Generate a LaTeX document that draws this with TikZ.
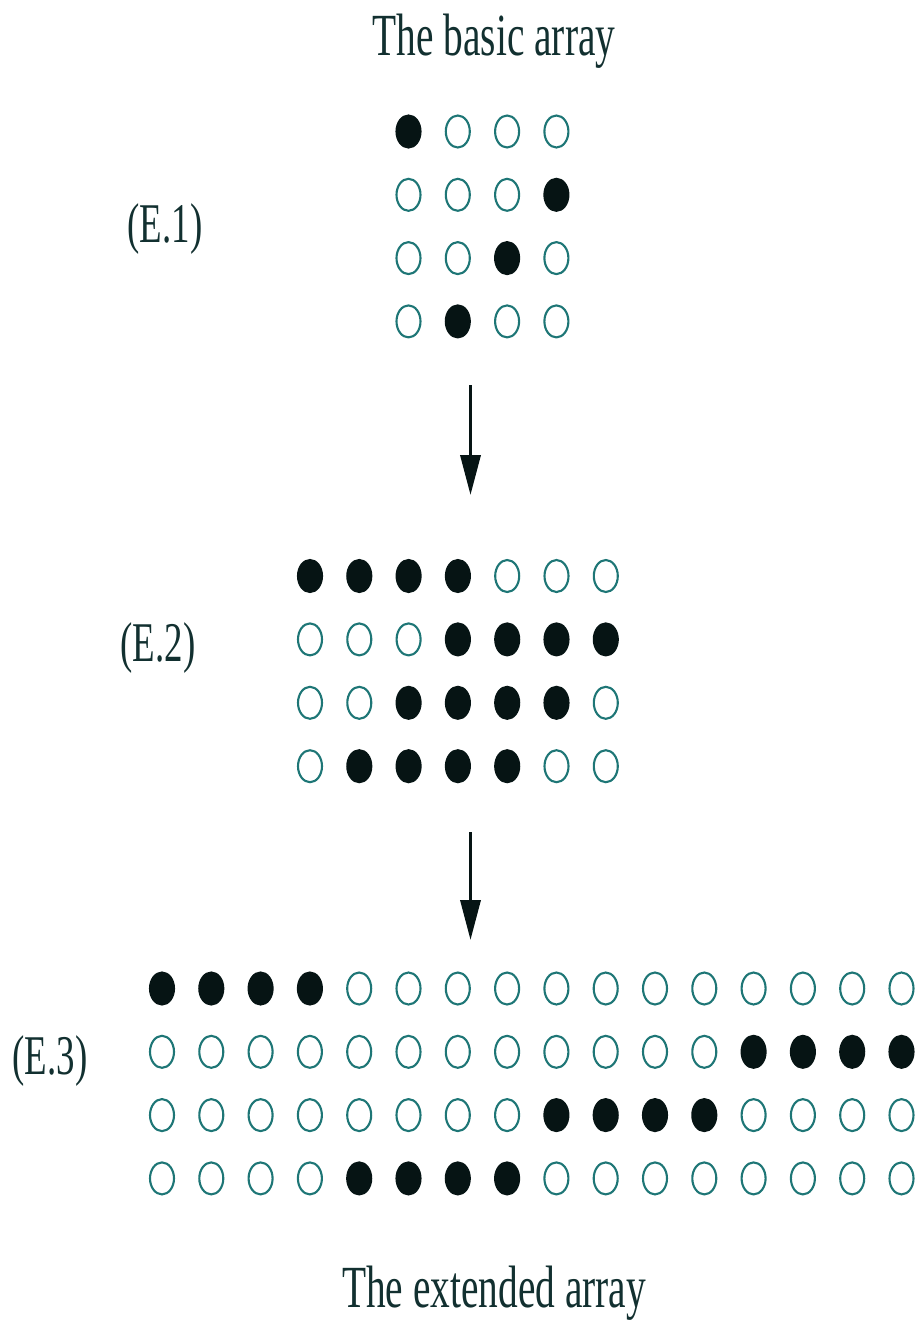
\documentclass[tikz,border=0pt]{standalone}
\usepackage{fontspec}
\setmainfont{Liberation Serif}
\usetikzlibrary{shapes.geometric,arrows.meta}

\definecolor{tinta}{RGB}{6,20,20}
\definecolor{letra}{RGB}{18,48,48}
\definecolor{borde}{RGB}{30,118,118}

\tikzset{
  vacio/.style={ellipse, draw=borde, line width=1.2pt, minimum width=0.48cm,
    minimum height=0.64cm, inner sep=0pt},
  lleno/.style={vacio, draw=tinta, fill=tinta},
  p0/.style={vacio},
  p1/.style={lleno},
  titulo/.style={anchor=base, text=letra, font=\fontsize{22.4}{27}\selectfont},
  etiqueta/.style={text=letra, font=\fontsize{21}{25}\selectfont},
  flecha/.style={draw=tinta, line width=2pt, -{Triangle[length=0.8cm,width=0.4cm]}},
}
% texto estirado en vertical
\newcommand{\alto}[1]{\scalebox{1}[1.52]{#1}}

\begin{document}
\begin{tikzpicture}[x=0.02cm,y=-0.02cm]
  \useasboundingbox (0,0) rectangle (920,1326);

  % Titulos
  \node[titulo] (basico) at (494,55) {\alto{The basic array}};
  \node[titulo] (extendido) at (494,1307) {\alto{The extended array}};

  % Etiquetas
  \node[etiqueta] (e1) at (165,229) {\alto{(E.1)}};
  \node[etiqueta] (e2) at (158,648) {\alto{(E.2)}};
  \node[etiqueta] (e3) at (50,1061) {\alto{(E.3)}};

  % Arreglo basico (E.1)
  \foreach \fila [count=\r from 0] in {{1,0,0,0},{0,0,0,1},{0,0,1,0},{0,1,0,0}}
    \foreach \v [count=\c from 0] in \fila
      \node[p\v] (a-\r-\c) at ({408.5+49.3*\c},{131.5+63.3*\r}) {};

  % Arreglo intermedio (E.2)
  \foreach \fila [count=\r from 0] in {{1,1,1,1,0,0,0},{0,0,0,1,1,1,1},
      {0,0,1,1,1,1,0},{0,1,1,1,1,0,0}}
    \foreach \v [count=\c from 0] in \fila
      \node[p\v] (b-\r-\c) at ({310+49.3*\c},{576+63.4*\r}) {};

  % Arreglo extendido (E.3)
  \foreach \fila [count=\r from 0] in {{1,1,1,1,0,0,0,0,0,0,0,0,0,0,0,0},
      {0,0,0,0,0,0,0,0,0,0,0,0,1,1,1,1},
      {0,0,0,0,0,0,0,0,1,1,1,1,0,0,0,0},
      {0,0,0,0,1,1,1,1,0,0,0,0,0,0,0,0}}
    \foreach \v [count=\c from 0] in \fila
      \node[p\v] (c-\r-\c) at ({162+49.3*\c},{988.5+63.3*\r}) {};

  % Flechas
  \coordinate (f1a) at (470.5,385);
  \coordinate (f1b) at (470.5,495);
  \coordinate (f2a) at (470.5,832);
  \coordinate (f2b) at (470.5,940);
  \draw[flecha] (f1a) -- (f1b);
  \draw[flecha] (f2a) -- (f2b);
\end{tikzpicture}
\end{document}
